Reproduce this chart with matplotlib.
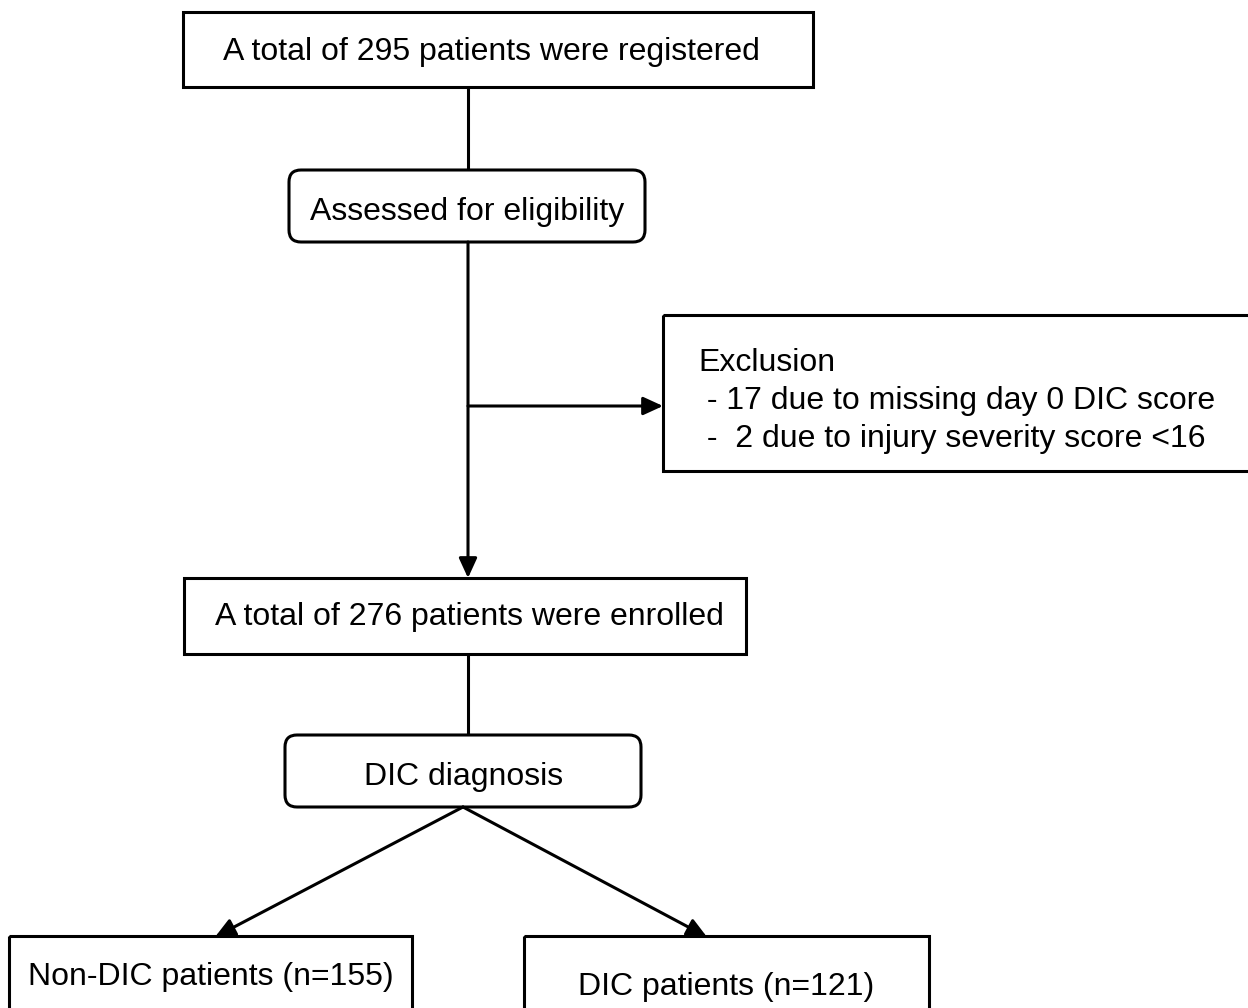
import matplotlib.pyplot as plt
from matplotlib.patches import FancyBboxPatch, Rectangle

plt.rcParams['font.family'] = ['Liberation Sans', 'DejaVu Sans']

# flowchart texts
registered_label = 'A total of 295 patients were registered'
assessed_label = 'Assessed for eligibility'
exclusion_lines = ['Exclusion',
                   ' - 17 due to missing day 0 DIC score',
                   ' -  2 due to injury severity score <16']
enrolled_label = 'A total of 276 patients were enrolled'
diagnosis_label = 'DIC diagnosis'
group_labels = ['Non-DIC patients (n=155)', 'DIC patients (n=121)']

FS = 23
LW = 2.2
DY = 3  # small downward nudge so text sits like the reference


def square_box(ax, x0, y0, x1, y1):
    ax.add_patch(Rectangle((x0, y0), x1 - x0, y1 - y0, fill=False,
                           edgecolor='black', linewidth=LW))


def round_box(ax, x0, y0, x1, y1):
    pad = 12
    ax.add_patch(FancyBboxPatch((x0 + pad, y0 + pad), x1 - x0 - 2 * pad, y1 - y0 - 2 * pad,
                                boxstyle='round,pad=12,rounding_size=12',
                                fill=False, edgecolor='black', linewidth=LW))


def line(ax, x0, y0, x1, y1):
    ax.plot([x0, x1], [y0, y1], color='black', linewidth=LW, solid_capstyle='butt')


def arrow(ax, x0, y0, x1, y1):
    ax.annotate('', xy=(x1, y1), xytext=(x0, y0),
                arrowprops=dict(arrowstyle='-|>,head_length=1.2,head_width=0.55',
                                color='black', linewidth=LW, shrinkA=0, shrinkB=0))


def label(ax, x, y, s, ha='center'):
    ax.text(x, y + DY, s, fontsize=FS, ha=ha, va='center')


fig = plt.figure(figsize=(12.48, 10.08), dpi=100)
ax = fig.add_axes([0, 0, 1, 1])
ax.set_xlim(0, 1248)
ax.set_ylim(1008, 0)
ax.axis('off')

# top box
square_box(ax, 183, 12, 813, 87)
label(ax, 491, 49, registered_label)
line(ax, 468, 87, 468, 170)

# assessed
round_box(ax, 289, 170, 645, 242)
label(ax, 467, 209, assessed_label)
arrow(ax, 468, 242, 468, 578)
arrow(ax, 468, 406, 663, 406)

# exclusion box (runs off the right edge)
square_box(ax, 663, 315, 1270, 471)
for i, s in enumerate(exclusion_lines):
    label(ax, 698, 360 + i * 38, s, ha='left')

# enrolled
square_box(ax, 184, 578, 746, 654)
label(ax, 469, 614, enrolled_label)
line(ax, 468, 654, 468, 735)

# diagnosis
round_box(ax, 285, 735, 641, 807)
label(ax, 464, 774, diagnosis_label)
arrow(ax, 463, 807, 215, 937)
arrow(ax, 463, 807, 707, 937)

# groups
square_box(ax, 9, 936, 412, 1030)
label(ax, 211, 974, group_labels[0])
square_box(ax, 524, 936, 929, 1030)
label(ax, 726, 984, group_labels[1])

fig.savefig('out.png', dpi=100)
